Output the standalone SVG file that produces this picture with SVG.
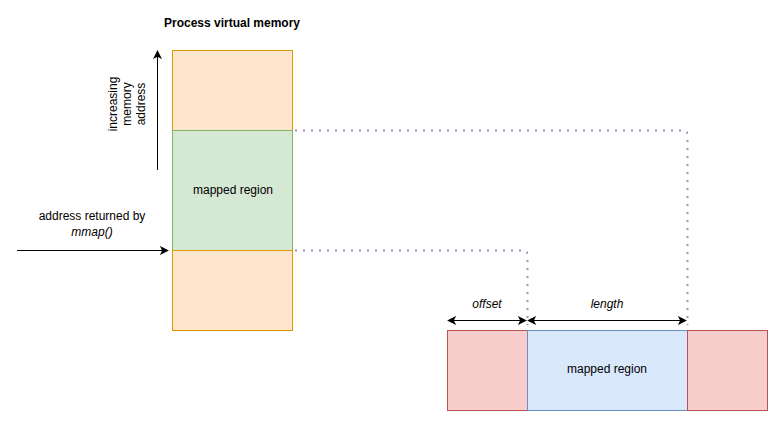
<svg xmlns="http://www.w3.org/2000/svg" width="778" height="421" viewBox="0 0 778 421">
<style>
text{font-family:"Liberation Sans",Arial,sans-serif;font-size:12px;fill:#000}
.c{text-anchor:middle}
.i{font-style:italic}
.dot{fill:none;stroke:#a58cbb;stroke-width:2;stroke-dasharray:2 6}
.ar{fill:none;stroke:#000;stroke-width:1}
</style>
<defs>
<marker id="a" viewBox="0 0 10 10" refX="9" refY="5" markerWidth="9" markerHeight="9" markerUnits="userSpaceOnUse" orient="auto-start-reverse">
<path d="M0,0 L10,5 L0,10 L2.5,5 Z" fill="#000"/>
</marker>
</defs>
<text x="232" y="27" class="c" font-weight="bold">Process virtual memory</text>
<g id="vm-top"><rect x="172.5" y="50.5" width="120" height="80" fill="#ffe6cc" stroke="#d79b00"/></g>
<g id="vm-mapped"><rect x="172.5" y="130.5" width="120" height="120" fill="#d5e8d4" stroke="#82b366"/><text x="233" y="194" class="c">mapped region</text></g>
<g id="vm-bottom"><rect x="172.5" y="250.5" width="120" height="80" fill="#ffe6cc" stroke="#d79b00"/></g>
<g id="file-left"><rect x="447.5" y="330.5" width="80" height="80" fill="#f8cecc" stroke="#b85450"/></g>
<g id="file-mapped"><rect x="527.5" y="330.5" width="160" height="80" fill="#dae8fc" stroke="#6c8ebf"/><text x="607" y="373" class="c">mapped region</text></g>
<g id="file-right"><rect x="687.5" y="330.5" width="80" height="80" fill="#f8cecc" stroke="#b85450"/></g>
<g id="label-addr"><text x="92" y="220" class="c">address returned by</text><text x="92" y="236" class="c i">mmap()</text></g>
<g id="label-incr"><text transform="translate(127,104) rotate(-90)" class="c"><tspan x="0" y="-10">increasing</tspan><tspan x="0" y="4">memory</tspan><tspan x="0" y="18">address</tspan></text></g>
<g id="label-offset"><text x="487" y="308" class="c i">offset</text></g>
<g id="label-length"><text x="607" y="308" class="c i">length</text></g>
<g id="connectors">
<path class="ar" d="M157.5,170 V51" marker-end="url(#a)"/>
<path class="ar" d="M17,250.5 H168" marker-end="url(#a)"/>
<path class="ar" d="M448,320.5 H526" marker-start="url(#a)" marker-end="url(#a)"/>
<path class="ar" d="M528,320.5 H686" marker-start="url(#a)" marker-end="url(#a)"/>
<path class="dot" d="M295,130.5 H683 Q687.5,130.5 687.5,135 V325"/>
<path class="dot" d="M295,250.5 H523 Q527.5,250.5 527.5,255 V325"/>
</g>
</svg>
